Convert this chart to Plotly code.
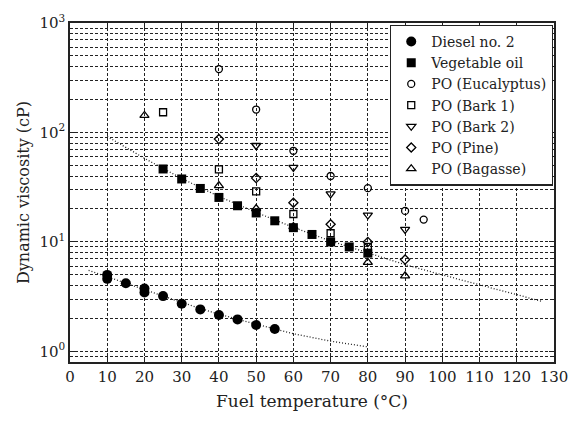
import plotly.graph_objects as go

# ---- data ----
diesel_T = [10, 10, 15, 20, 20, 25, 30, 35, 40, 45, 50, 55]
diesel_mu = [5.0, 4.6, 4.2, 3.75, 3.45, 3.2, 2.72, 2.42, 2.15, 1.96, 1.74, 1.6]

veg_T = [25, 30, 35, 40, 45, 50, 55, 60, 65, 70, 75, 80]
veg_mu = [46.4, 37.6, 30.8, 25.5, 21.4, 18.4, 15.6, 13.5, 11.7, 10.0, 9.0, 7.9]

euc_T = [40, 50, 60, 70, 80, 90, 95]
euc_mu = [379, 162, 68, 40, 31, 19.2, 16]

bark1_T = [25, 40, 50, 60, 70, 80]
bark1_mu = [153, 46, 29, 18, 12, 9.0]

bark2_T = [50, 60, 70, 80, 90]
bark2_mu = [76, 48, 27.5, 17.6, 13]

pine_T = [40, 50, 60, 70, 80, 90]
pine_mu = [87, 38.3, 22.8, 14.5, 10.0, 6.9]

bagasse_T = [20, 40, 50, 60, 80, 90]
bagasse_mu = [143, 32.7, 20.2, 13.8, 6.5, 4.9]

diesel_fit_T = [5, 10, 20, 30, 40, 50, 60, 70, 80]
diesel_fit_mu = [5.5, 4.8, 3.7, 2.8, 2.18, 1.78, 1.45, 1.24, 1.1]

veg_fit_T = [10, 20, 30, 40, 50, 60, 70, 80, 90, 100, 110, 120, 127]
veg_fit_mu = [92, 58, 38, 26, 18.6, 13.6, 10.2, 7.9, 6.2, 5.0, 4.05, 3.25, 2.85]

x_ticks = list(range(0, 140, 10))
y_decades = [1, 10, 100, 1000]
y_decade_labels = ["10<sup>0</sup>", "10<sup>1</sup>", "10<sup>2</sup>", "10<sup>3</sup>"]
y_minor = [0.8, 0.9] + [k * d for d in [1, 10, 100] for k in range(2, 10)]

# ---- figure ----
FONT = "DejaVu Serif"
INK = "#222222"
fig = go.Figure()

for fx, fy in [(diesel_fit_T, diesel_fit_mu), (veg_fit_T, veg_fit_mu)]:
    fig.add_trace(go.Scatter(x=fx, y=fy, mode="lines", showlegend=False,
                             line=dict(color="#222222", width=1.3, dash="1px,2px"),
                             hoverinfo="skip"))

series = [
    ("Diesel no. 2", diesel_T, diesel_mu, "circle", 10, True),
    ("Vegetable oil", veg_T, veg_mu, "square", 9, True),
    ("PO (Eucalyptus)", euc_T, euc_mu, "circle-open", 7, False),
    ("PO (Bark 1)", bark1_T, bark1_mu, "square-open", 7, False),
    ("PO (Bark 2)", bark2_T, bark2_mu, "triangle-down-open", 8, False),
    ("PO (Pine)", pine_T, pine_mu, "diamond-open", 7, False),
    ("PO (Bagasse)", bagasse_T, bagasse_mu, "triangle-up-open", 8, False),
]
for name, xs, ys, sym, size, filled in series:
    fig.add_trace(go.Scatter(
        x=xs, y=ys, mode="markers", name=name,
        marker=dict(symbol=sym, size=size, color="black",
                    line=dict(color="black", width=0 if filled else 1.3)),
    ))

grid_common = dict(showgrid=True, gridcolor=INK, gridwidth=1, griddash="3px,2px")

fig.update_layout(
    width=580, height=424,
    margin=dict(l=70, r=16, t=16, b=62),
    paper_bgcolor="white", plot_bgcolor="white",
    font=dict(family=FONT, size=15, color=INK),
    legend=dict(
        x=0.998, y=0.995, xanchor="right", yanchor="top",
        bgcolor="white", bordercolor=INK, borderwidth=1.2,
        font=dict(family=FONT, size=14, color=INK),
        tracegroupgap=0, itemwidth=30,
    ),
    xaxis=dict(
        range=[0, 130], tickvals=x_ticks,
        showline=True, linecolor=INK, linewidth=1.5, mirror="ticks",
        ticks="inside", ticklen=5, tickcolor=INK,
        zeroline=False, **grid_common,
        title=dict(text="Fuel temperature (°C)", font=dict(size=17), standoff=10),
    ),
    yaxis=dict(
        type="log", range=[-0.09691, 3],
        tickvals=y_decades, ticktext=y_decade_labels,
        showline=True, linecolor=INK, linewidth=1.5, mirror="ticks",
        ticks="inside", ticklen=5, tickcolor=INK,
        zeroline=False, **grid_common,
        minor=dict(tickvals=y_minor, ticks="inside", ticklen=3, tickcolor=INK,
                   showgrid=True, gridcolor=INK, gridwidth=1, griddash="3px,2px"),
        title=dict(text="Dynamic viscosity (cP)", font=dict(size=16), standoff=6),
    ),
)

fig.write_html("out.html")
